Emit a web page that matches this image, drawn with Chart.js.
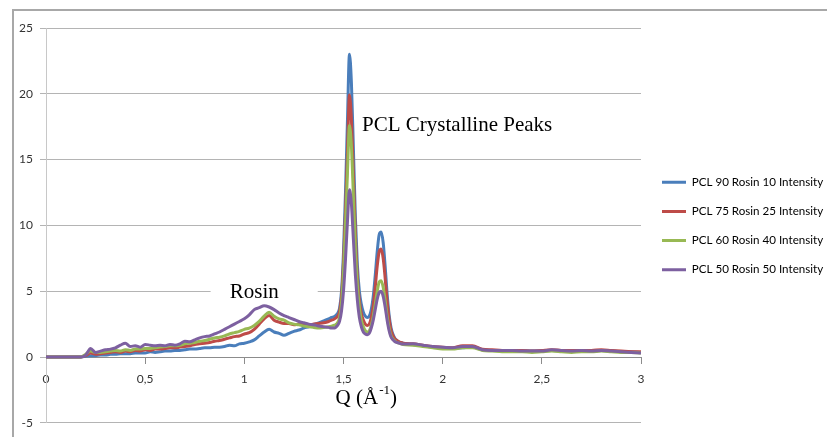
<!DOCTYPE html>
<html>
<head>
<meta charset="utf-8">
<script src="https://cdn.jsdelivr.net/npm/chart.js@4.4.0/dist/chart.umd.min.js"></script>
<style>
    html, body { margin: 0; padding: 0; background: #fff; }
    #wrap { position: relative; width: 827px; height: 437px; overflow: hidden; }
    #frame { position: absolute; left: 12px; top: 9px; width: 830px; height: 440px;
             border-left: 2px solid #a8a8a8; border-top: 2px solid #a8a8a8; }
    #chart { position: absolute; left: 0; top: 0; }
</style>
</head>
<body>
<div id="wrap">
    <div id="frame"></div>
    <canvas id="chart" width="827" height="437"></canvas>
</div>
<script>
    'use strict';

    // Q values (1/Angstrom)
    var qValues = [
        0, 0.05, 0.1, 0.15,
        0.175, 0.2, 0.225, 0.25, 0.275, 0.3, 0.325, 0.35, 0.375, 0.4,
        0.425, 0.45, 0.475, 0.5, 0.525, 0.55, 0.575, 0.6, 0.625, 0.65,
        0.675, 0.7, 0.725, 0.75, 0.775, 0.8, 0.825, 0.85, 0.875, 0.9,
        0.925, 0.95, 0.975, 1.0, 1.025, 1.05, 1.075, 1.1, 1.125, 1.15,
        1.175, 1.2, 1.225, 1.25, 1.275, 1.3, 1.325, 1.35, 1.375, 1.4, 1.425,
        1.44, 1.45, 1.46, 1.47, 1.48, 1.49, 1.50, 1.51, 1.52, 1.53,
        1.54, 1.55, 1.56, 1.57, 1.58, 1.59, 1.60, 1.61, 1.62, 1.63,
        1.64, 1.65, 1.66, 1.67, 1.68, 1.69, 1.70, 1.71, 1.72, 1.73,
        1.74, 1.75, 1.76, 1.77, 1.78, 1.79, 1.80,
        1.85, 1.9, 1.95, 2.0, 2.05, 2.1, 2.15, 2.2, 2.25, 2.3, 2.35, 2.4,
        2.45, 2.5, 2.55, 2.6, 2.65, 2.7, 2.75, 2.8, 2.85, 2.9, 2.95, 3.0
    ];

    var pcl90 = [
        0, 0, 0, 0,
        0, 0.05, 0.1, 0.1, 0.15, 0.15, 0.2, 0.2, 0.25, 0.25,
        0.25, 0.3, 0.3, 0.3, 0.4, 0.35, 0.4, 0.45, 0.45, 0.5,
        0.5, 0.55, 0.6, 0.6, 0.65, 0.7, 0.7, 0.75, 0.75, 0.8,
        0.9, 0.85, 1.0, 1.05, 1.15, 1.3, 1.6, 1.9, 2.1, 1.9,
        1.8, 1.65, 1.8, 1.95, 2.05, 2.2, 2.3, 2.45, 2.6, 2.75, 2.9,
        3.0, 3.05, 3.15, 3.3, 3.7, 5.0, 8.0, 12.5, 18.0, 23.0,
        20.8, 15.8, 10.6, 7.0, 5.0, 4.0, 3.4, 3.1, 3.0, 3.1,
        3.6, 4.6, 6.2, 8.0, 9.3, 9.5, 8.7, 6.9, 4.8, 3.2,
        2.2, 1.7, 1.4, 1.25, 1.15, 1.1, 1.05,
        0.95, 0.85, 0.75, 0.7, 0.65, 0.7, 0.75, 0.55, 0.5, 0.5, 0.45, 0.45,
        0.45, 0.45, 0.5, 0.45, 0.45, 0.45, 0.45, 0.5, 0.45, 0.4, 0.4, 0.35
    ];

    var pcl75 = [
        0, 0, 0, 0,
        0, 0.1, 0.3, 0.2, 0.25, 0.3, 0.35, 0.4, 0.35, 0.45,
        0.4, 0.5, 0.45, 0.55, 0.5, 0.6, 0.6, 0.65, 0.7, 0.7,
        0.75, 0.8, 0.85, 0.95, 1.0, 1.05, 1.1, 1.2, 1.25, 1.35,
        1.45, 1.55, 1.6, 1.75, 1.85, 2.1, 2.5, 2.9, 3.15, 2.8,
        2.65, 2.55, 2.55, 2.45, 2.5, 2.5, 2.45, 2.5, 2.55, 2.6, 2.7,
        2.8, 2.85, 2.95, 3.1, 3.45, 4.6, 7.2, 11.0, 15.6, 19.9,
        18.0, 13.7, 9.3, 6.1, 4.3, 3.3, 2.8, 2.5, 2.4, 2.5,
        3.0, 3.9, 5.3, 6.9, 8.0, 8.2, 7.5, 6.0, 4.2, 2.9,
        2.0, 1.6, 1.35, 1.25, 1.15, 1.1, 1.05,
        1.0, 0.9, 0.8, 0.75, 0.7, 0.85, 0.85, 0.6, 0.55, 0.5, 0.5, 0.5,
        0.45, 0.5, 0.55, 0.5, 0.5, 0.5, 0.5, 0.55, 0.5, 0.45, 0.4, 0.4
    ];

    var pcl60 = [
        0, 0, 0, 0,
        0, 0.2, 0.45, 0.35, 0.35, 0.4, 0.45, 0.5, 0.45, 0.55,
        0.5, 0.6, 0.6, 0.65, 0.65, 0.7, 0.75, 0.8, 0.85, 0.85,
        0.9, 1.0, 1.05, 1.1, 1.2, 1.25, 1.35, 1.45, 1.5, 1.6,
        1.75, 1.85, 1.95, 2.1, 2.2, 2.4, 2.7, 3.1, 3.4, 3.1,
        2.9, 2.8, 2.6, 2.5, 2.45, 2.35, 2.3, 2.25, 2.2, 2.25, 2.3,
        2.35, 2.4, 2.45, 2.6, 3.0, 4.1, 6.5, 10.0, 14.0, 17.6,
        16.0, 12.2, 8.3, 5.5, 3.8, 2.8, 2.3, 2.0, 1.9, 2.0,
        2.4, 3.1, 4.0, 5.0, 5.7, 5.8, 5.3, 4.3, 3.1, 2.2,
        1.6, 1.35, 1.2, 1.1, 1.05, 1.0, 0.95,
        0.9, 0.8, 0.7, 0.6, 0.6, 0.7, 0.7, 0.5, 0.45, 0.4, 0.4, 0.4,
        0.35, 0.4, 0.45, 0.4, 0.35, 0.4, 0.4, 0.45, 0.4, 0.35, 0.35, 0.3
    ];

    var pcl50 = [
        0, 0, 0, 0,
        0, 0.15, 0.65, 0.35, 0.45, 0.55, 0.6, 0.7, 0.9, 1.05,
        0.8, 0.85, 0.75, 0.95, 0.9, 0.85, 0.9, 0.85, 0.95, 0.9,
        1.0, 1.2, 1.15, 1.3, 1.45, 1.55, 1.6, 1.75, 1.9, 2.1,
        2.3, 2.5, 2.7, 2.9, 3.2, 3.6, 3.75, 3.9, 3.8, 3.6,
        3.35, 3.15, 3.0, 2.85, 2.7, 2.6, 2.5, 2.45, 2.35, 2.3, 2.25,
        2.2, 2.2, 2.25, 2.4, 2.7, 3.5, 5.0, 7.4, 10.3, 12.7,
        11.6, 8.9, 6.2, 4.3, 3.0, 2.3, 1.9, 1.75, 1.7, 1.8,
        2.2, 2.8, 3.6, 4.4, 4.9, 5.0, 4.6, 3.8, 2.8, 2.0,
        1.5, 1.3, 1.15, 1.1, 1.05, 1.0, 0.98,
        1.0, 0.9, 0.8, 0.75, 0.7, 0.8, 0.8, 0.55, 0.5, 0.5, 0.5, 0.45,
        0.45, 0.45, 0.55, 0.5, 0.45, 0.5, 0.45, 0.5, 0.45, 0.4, 0.35, 0.3
    ];

    var seriesLabels = [
        'PCL 90 Rosin 10 Intensity',
        'PCL 75 Rosin 25 Intensity',
        'PCL 60 Rosin 40 Intensity',
        'PCL 50 Rosin 50 Intensity'
    ];
    var seriesColors = ['#4a7ebb', '#be4b48', '#98b954', '#7d60a0'];
    var seriesValues = [pcl90, pcl75, pcl60, pcl50];

    var yTicks = [-5, 0, 5, 10, 15, 20, 25];
    var xTicks = [0, 0.5, 1, 1.5, 2, 2.5, 3];

    var LEGEND_WIDTH = 186;

    function toPoints(values) {
        return qValues.map(function (q, i) {
            return { x: q, y: values[i] };
        });
    }

    var datasets = seriesValues.map(function (values, i) {
        return {
            label: seriesLabels[i],
            data: toPoints(values),
            borderColor: seriesColors[i],
            backgroundColor: seriesColors[i],
            borderWidth: 3,
            pointRadius: 0,
            tension: 0.4,
            cubicInterpolationMode: 'monotone',
            order: seriesValues.length - i
        };
    });

    //KEEP THE LEGEND AS NARROW AS IN THE ORIGINAL
    var legendFitPlugin = {
        id: 'legendFit',
        afterInit: function (chart) {
            var legend = chart.legend;
            var fit = legend.fit;
            legend.fit = function () {
                fit.call(this);
                this.width = LEGEND_WIDTH;
            };
        },
        afterLayout: function (chart) {
            chart.legend.left += 3.5;
        }
    };

    //TEXT LABELS ON THE PLOT
    var textPlugin = {
        id: 'plotText',
        beforeDatasetsDraw: function (chart) {
            var ctx = chart.ctx;
            var xs = chart.scales.x, ys = chart.scales.y;
            // white text box behind "Rosin"
            ctx.save();
            ctx.fillStyle = '#ffffff';
            ctx.fillRect(xs.getPixelForValue(0.83), ys.getPixelForValue(5.8),
                xs.getPixelForValue(1.37) - xs.getPixelForValue(0.83), 20);
            ctx.restore();
        },
        afterDraw: function (chart) {
            var ctx = chart.ctx;
            var xs = chart.scales.x, ys = chart.scales.y;
            ctx.save();
            ctx.fillStyle = '#000';
            ctx.textBaseline = 'alphabetic';
            ctx.font = '21px "Liberation Serif", serif';
            ctx.textAlign = 'center';
            ctx.fillText('Rosin', xs.getPixelForValue(1.05), ys.getPixelForValue(4.5));
            ctx.fillText('PCL Crystalline Peaks', xs.getPixelForValue(2.073), ys.getPixelForValue(17.2));

            // axis title Q (A^-1)
            ctx.textAlign = 'left';
            var x0 = xs.getPixelForValue(1.46);
            var yb = ys.getPixelForValue(-3.6);
            var part1 = 'Q (Å';
            ctx.fillText(part1, x0, yb);
            var w1 = ctx.measureText(part1).width;
            ctx.font = '13px "Liberation Serif", serif';
            ctx.fillText('-1', x0 + w1 + 1, yb - 10);
            var w2 = ctx.measureText('-1').width;
            ctx.font = '21px "Liberation Serif", serif';
            ctx.fillText(')', x0 + w1 + w2 + 1, yb);
            ctx.restore();
        }
    };

    new Chart(document.getElementById('chart'), {
        type: 'line',
        data: { datasets: datasets },
        plugins: [legendFitPlugin, textPlugin],
        options: {
            responsive: false,
            animation: false,
            layout: { padding: { top: 28, bottom: 13, left: 0, right: 0 } },
            plugins: {
                tooltip: { enabled: false },
                legend: {
                    position: 'right',
                    labels: {
                        boxWidth: 24,
                        boxHeight: 3,
                        padding: 17.5,
                        color: '#000',
                        font: { family: 'Lato', size: 11.6 },
                        generateLabels: function (chart) {
                            var items = Chart.defaults.plugins.legend.labels.generateLabels(chart);
                            items.forEach(function (item) { item.lineWidth = 0; });
                            return items;
                        },
                        sort: function (a, b) { return a.datasetIndex - b.datasetIndex; }
                    }
                }
            },
            scales: {
                x: {
                    type: 'linear',
                    position: { y: 0 },
                    min: 0,
                    max: 3,
                    afterBuildTicks: function (axis) {
                        axis.ticks = xTicks.map(function (v) { return { value: v }; });
                    },
                    ticks: {
                        color: '#333',
                        padding: 9,
                        maxRotation: 0,
                        font: { family: 'Lato', size: 12 },
                        callback: function (v) { return String(v).replace('.', ','); }
                    },
                    grid: { drawOnChartArea: false, drawTicks: true, tickLength: 6, color: '#8c8c8c' },
                    border: { color: '#8c8c8c', width: 1 }
                },
                y: {
                    type: 'linear',
                    min: -5,
                    max: 25,
                    afterBuildTicks: function (axis) {
                        axis.ticks = yTicks.map(function (v) { return { value: v }; });
                    },
                    afterFit: function (axis) {
                        axis.width = 46;
                    },
                    ticks: {
                        color: '#333',
                        padding: 7,
                        font: { family: 'Lato', size: 12 }
                    },
                    grid: { color: '#b4b4b4', tickLength: 6 },
                    border: { color: '#c8c8c8', width: 1 }
                }
            }
        }
    });
</script>
</body>
</html>
